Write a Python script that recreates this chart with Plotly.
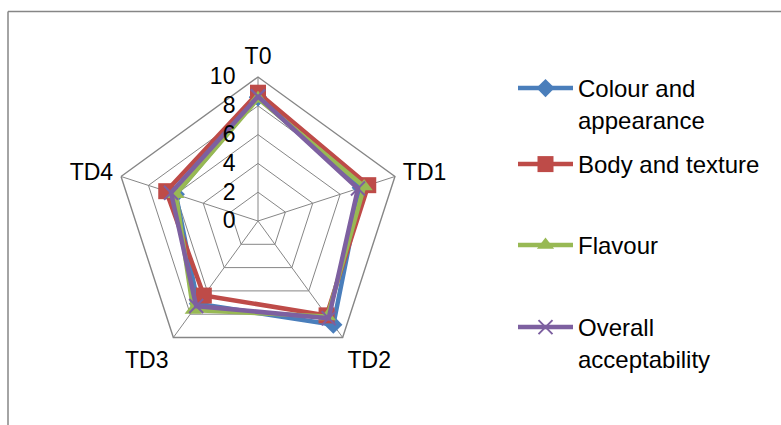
import plotly.graph_objects as go

categories = ["T0", "TD1", "TD2", "TD3", "TD4"]
colour_appearance = [8.6, 7.5, 8.9, 7.1, 6.0]
body_texture = [8.9, 8.05, 8.1, 6.4, 6.7]
flavour = [8.5, 7.75, 8.2, 7.65, 6.0]
overall = [8.65, 7.3, 8.35, 7.3, 6.35]

series_names = ["Colour and<br>appearance", "Body and texture", "Flavour", "Overall<br>acceptability"]
series_values = [colour_appearance, body_texture, flavour, overall]
colors = ["#4A7EBB", "#BE4B48", "#98B954", "#7D60A0"]
symbols = ["diamond", "square", "triangle-up", "x-thin"]
msizes = [14, 16, 15, 14]
legend_tops = [66, 142, 223, 305]

W, H = 781, 425
cx, cy, R = 258, 221, 144

FONT = "Liberation Sans"
fig = go.Figure()
legend_ids = ["legend", "legend2", "legend3", "legend4"]
for i, (name, vals) in enumerate(zip(series_names, series_values)):
    mk = dict(symbol=symbols[i], size=msizes[i], color=colors[i])
    if symbols[i] == "x-thin":
        mk["line"] = dict(color=colors[i], width=2)
    fig.add_trace(go.Scatterpolar(
        r=vals + [vals[0]], theta=categories + [categories[0]],
        mode="lines+markers", name=name,
        line=dict(color=colors[i], width=4.5),
        marker=mk, legend=legend_ids[i],
    ))

legend_common = dict(xanchor="left", yanchor="top", font=dict(size=24, family=FONT),
                     itemwidth=55, valign="top", bgcolor="rgba(0,0,0,0)")
legends = {}
for i, lid in enumerate(legend_ids):
    legends[lid] = dict(x=513 / W, y=1 - legend_tops[i] / H, **legend_common)

fig.update_layout(
    width=W, height=H,
    margin=dict(l=0, r=0, t=0, b=0),
    paper_bgcolor="white",
    font=dict(family=FONT, size=23, color="black"),
    polar=dict(
        domain=dict(x=[(cx - R) / W, (cx + R) / W], y=[(H - cy - R) / H, (H - cy + R) / H]),
        gridshape="linear",
        bgcolor="white",
        radialaxis=dict(range=[0, 10], dtick=2, angle=90, tickangle=90,
                        side="counterclockwise", showline=False,
                        gridcolor="#868686", gridwidth=1.4,
                        ticks="outside", ticklen=14, tickcolor="rgba(0,0,0,0)",
                        tickfont=dict(size=23, family=FONT)),
        angularaxis=dict(rotation=90, direction="clockwise",
                         linecolor="#868686", linewidth=1.4,
                         gridcolor="#868686", gridwidth=1.4,
                         ticks="outside", ticklen=3, tickcolor="rgba(0,0,0,0)",
                         tickfont=dict(size=23, family=FONT)),
    ),
    showlegend=True,
    **legends,
)

fig.add_shape(type="line", xref="paper", yref="paper", x0=8 / W, x1=1.01, y0=1 - 11.5 / H, y1=1 - 11.5 / H,
              line=dict(color="#868686", width=1.5))
fig.add_shape(type="line", xref="paper", yref="paper", x0=8 / W, x1=8 / W, y0=1 - 11.5 / H, y1=-0.01,
              line=dict(color="#868686", width=1.5))

fig.write_html("out.html", config={"displayModeBar": False},
               post_script="document.body.style.margin='0';")
